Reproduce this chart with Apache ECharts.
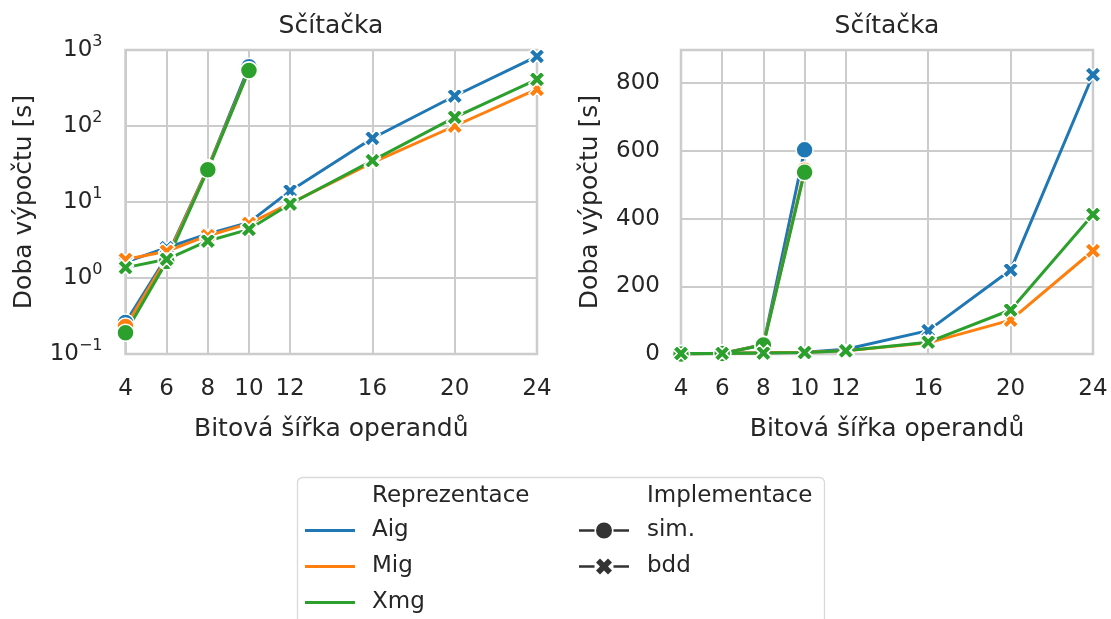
<!DOCTYPE html>
<html>
<head>
<meta charset="utf-8">
<title>Sčítačka</title>
<script src="https://cdn.jsdelivr.net/npm/echarts@6/dist/echarts.min.js"></script>
<style>
  html, body { margin: 0; padding: 0; background: #fff; }
  #chart { width: 1111px; height: 619px; }
</style>
</head>
<body>
<div id="chart"></div>
<script>
// Operand bit widths and computation times [s]
const bits = [4, 6, 8, 10, 12, 16, 20, 24];
const simBits = [4, 6, 8, 10];

const aigSim = [0.26, 1.9, 28, 603];
const migSim = [0.23, 1.8, 27.5, 543];
const xmgSim = [0.19, 1.65, 26.5, 537];

const aigBdd = [1.62, 2.5, 3.8, 5.4, 14, 69, 248, 825];
const migBdd = [1.75, 2.25, 3.6, 5.2, 9.6, 33, 100, 305];
const xmgBdd = [1.37, 1.76, 3.07, 4.37, 9.4, 35, 130, 412];

const reps = ['Aig', 'Mig', 'Xmg'];
const impls = ['sim.', 'bdd'];
const linTicks = [0, 200, 400, 600, 800];

const colors = { Aig: '#1f77b4', Mig: '#ff7f0e', Xmg: '#2ca02c' };
const textColor = '#262626';
const gridColor = '#cccccc';
const FONT = 'DejaVu Sans';

// filled "X" marker (rotated plus)
const xMark = 'path://M25,0 L50,25 L75,0 L100,25 L75,50 L100,75 L75,100 L50,75 L25,100 L0,75 L25,50 L0,25 Z';
// legend glyphs: line with marker in the middle
const legSim = 'path://M0,6.75 L15.5,6.75 L15.5,9.25 L0,9.25 Z M34.5,6.75 L50,6.75 L50,9.25 L34.5,9.25 Z M17,8 A8,8 0 1,1 33,8 A8,8 0 1,1 17,8 Z';
const legBdd = 'path://M0,6.75 L15.5,6.75 L15.5,9.25 L0,9.25 Z M34.5,6.75 L50,6.75 L50,9.25 L34.5,9.25 Z M21,0 L25,4 L29,0 L33,4 L29,8 L33,12 L29,16 L25,12 L21,16 L17,12 L21,8 L17,4 Z';

const dataset = {
  Aig: { 'sim.': aigSim, bdd: aigBdd },
  Mig: { 'sim.': migSim, bdd: migBdd },
  Xmg: { 'sim.': xmgSim, bdd: xmgBdd }
};

// "10" with a raised exponent
function powLabel(v) {
  const e = Math.round(Math.log10(v));
  return '{b|10}{e|' + (e < 0 ? '\u2212' + (-e) : String(e)) + '}';
}

function makeSeries(gi) {
  const out = [];
  reps.forEach(rep => {
    impls.forEach(impl => {
      const xs = impl === 'sim.' ? simBits : bits;
      const ys = dataset[rep][impl];
      const c = colors[rep];
      out.push({
        type: 'line',
        name: rep + ' ' + impl,
        xAxisIndex: gi,
        yAxisIndex: gi,
        data: xs.map((x, i) => [x, ys[i]]),
        symbol: impl === 'sim.' ? 'circle' : xMark,
        symbolSize: impl === 'sim.' ? 17 : 16,
        showSymbol: true,
        lineStyle: { width: 3, color: c },
        itemStyle: { color: c, borderColor: '#ffffff', borderWidth: 1.5 },
        emphasis: { disabled: true },
        silent: true
      });
    });
  });
  return out;
}

// empty series that only feed the legend
const legendSeries = [
  ...reps.map(r => ({ type: 'line', name: r, data: [], color: colors[r], xAxisIndex: 0, yAxisIndex: 0 })),
  ...impls.map(m => ({ type: 'line', name: m, data: [], color: '#333333', xAxisIndex: 0, yAxisIndex: 0 }))
];

const labelStyle = { color: textColor, fontFamily: FONT, fontSize: 23 };
const nameStyle = { color: textColor, fontFamily: FONT, fontSize: 25 };

function xAxisCfg(gi) {
  return {
    type: 'value', gridIndex: gi, min: 4, max: 24,
    name: 'Bitová šířka operandů', nameLocation: 'middle', nameGap: 63,
    nameMoveOverlap: false,
    nameTextStyle: nameStyle,
    axisLine: { show: false },
    axisTick: { show: false, customValues: bits },
    axisLabel: Object.assign({ customValues: bits, margin: 24 }, labelStyle),
    splitLine: { show: true, lineStyle: { color: gridColor, width: 2 } }
  };
}

const option = {
  animation: false,
  backgroundColor: '#ffffff',
  textStyle: { fontFamily: FONT },
  grid: [
    { left: 125.5, top: 50, width: 411.5, height: 304, show: true, borderColor: gridColor, borderWidth: 2.5, outerBoundsMode: 'none', containLabel: false },
    { left: 681, top: 50, width: 412, height: 304, show: true, borderColor: gridColor, borderWidth: 2.5, outerBoundsMode: 'none', containLabel: false }
  ],
  xAxis: [xAxisCfg(0), xAxisCfg(1)],
  yAxis: [
    {
      type: 'log', logBase: 10, gridIndex: 0, min: 0.1, max: 1000,
      name: 'Doba výpočtu [s]', nameLocation: 'middle', nameGap: 89,
      nameMoveOverlap: false,
      nameTextStyle: nameStyle,
      axisLine: { show: false }, axisTick: { show: false },
      axisLabel: {
        margin: 23, formatter: powLabel, color: textColor, fontFamily: FONT,
        rich: {
          b: { fontSize: 23, lineHeight: 33, verticalAlign: 'middle', color: textColor, fontFamily: FONT },
          e: { fontSize: 16, lineHeight: 16, verticalAlign: 'top', color: textColor, fontFamily: FONT }
        }
      },
      splitLine: { show: true, lineStyle: { color: gridColor, width: 2 } },
      minorTick: { show: false }, minorSplitLine: { show: false }
    },
    {
      type: 'value', gridIndex: 1, min: 0, max: 898, interval: 200,
      name: 'Doba výpočtu [s]', nameLocation: 'middle', nameGap: 78,
      nameMoveOverlap: false,
      nameTextStyle: nameStyle,
      axisLine: { show: false }, axisTick: { show: false },
      axisLabel: Object.assign({
        margin: 21,
        formatter: v => (linTicks.indexOf(Math.round(v)) >= 0 && Math.abs(v - Math.round(v)) < 1e-6) ? String(Math.round(v)) : ''
      }, labelStyle),
      splitLine: { show: true, lineStyle: { color: gridColor, width: 2 } }
    }
  ],
  legend: [
    {
      orient: 'vertical', left: 305, top: 519, itemGap: 13, padding: 0,
      itemWidth: 50, itemHeight: 3, selectedMode: false,
      data: reps.map(r => ({ name: r, icon: 'rect' })),
      textStyle: { color: textColor, fontFamily: FONT, fontSize: 23, padding: [0, 0, 0, 12] }
    },
    {
      orient: 'vertical', left: 579, top: 519, itemGap: 13, padding: 0,
      itemWidth: 50, itemHeight: 16, selectedMode: false,
      data: [{ name: 'sim.', icon: legSim }, { name: 'bdd', icon: legBdd }],
      textStyle: { color: textColor, fontFamily: FONT, fontSize: 23, padding: [0, 0, 0, 13] }
    }
  ],
  graphic: [
    {
      type: 'rect', z: -1,
      shape: { x: 297.5, y: 477.5, width: 527, height: 200, r: 5 },
      style: { fill: '#ffffff', stroke: '#d9d9d9', lineWidth: 1.3 }
    },
    { type: 'text', x: 372, y: 496, style: { text: 'Reprezentace', fill: textColor, font: '23px "DejaVu Sans"', textVerticalAlign: 'middle' } },
    { type: 'text', x: 647, y: 496, style: { text: 'Implementace', fill: textColor, font: '23px "DejaVu Sans"', textVerticalAlign: 'middle' } },
    { type: 'text', x: 331, y: 26.5, style: { text: 'Sčítačka', fill: textColor, font: '25px "DejaVu Sans"', textAlign: 'center', textVerticalAlign: 'middle' } },
    { type: 'text', x: 887, y: 26.5, style: { text: 'Sčítačka', fill: textColor, font: '25px "DejaVu Sans"', textAlign: 'center', textVerticalAlign: 'middle' } }
  ],
  series: [...makeSeries(0), ...makeSeries(1), ...legendSeries]
};

const chart = echarts.init(document.getElementById('chart'), null, { renderer: 'canvas' });
chart.setOption(option);
</script>
</body>
</html>
